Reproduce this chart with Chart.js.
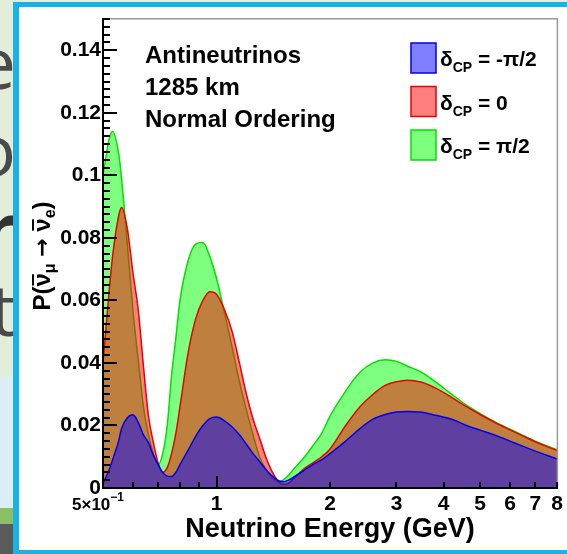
<!DOCTYPE html>
<html>
<head>
<meta charset="utf-8">
<script src="https://cdn.jsdelivr.net/npm/chart.js@4.4.0/dist/chart.umd.min.js"></script>
<style>
  html, body { margin: 0; padding: 0; }
  body { width: 567px; height: 554px; overflow: hidden; position: relative; background: #e3eeda; }
  #sky { position: absolute; left: 0; top: 377px; width: 567px; height: 177px; background: #dcedf8; }
  #grass { position: absolute; left: 0; top: 508px; width: 567px; height: 16px; background: #8cbf62; }
  #road { position: absolute; left: 0; top: 524px; width: 567px; height: 30px; background: #5a5a5a; }
  .big { position: absolute; right: 551px; font-family: "Open Sans", sans-serif; font-size: 72px; line-height: 72px; color: #4a4a4a; }
  #panel { position: absolute; left: 13px; top: 2px; width: 554px; height: 552px; box-sizing: border-box;
           border-left: 6px solid #16b4e6; border-top: 5px solid #16b4e6; border-bottom: 4px solid #16b4e6; background: #fff; }
  #wrap { position: absolute; left: 0; top: 0; width: 567px; height: 554px; z-index: 2; }
  #ticks { position: absolute; left: 0; top: 0; width: 567px; height: 554px; z-index: 3; pointer-events: none; }
  #ticks div { position: absolute; background: #000; }
</style>
</head>
<body>
<div id="sky"></div>
<div id="grass"></div>
<div id="road"></div>
<div class="big" style="top:25px">e</div>
<div class="big" style="top:112px">o</div>
<div class="big" style="top:191px;font-weight:bold;color:#333">r</div>
<div class="big" style="top:272px">t</div>
<div id="panel"></div>
<div id="wrap"><canvas id="myChart" width="567" height="554"></canvas></div>
<div id="ticks"></div>
<script>
// neutrino energy (GeV)
const energy = [0.50, 0.52, 0.53, 0.55, 0.56, 0.58, 0.60, 0.62, 0.64, 0.66, 0.68, 0.70, 0.72, 0.74, 0.76, 0.78,
  0.80, 0.84, 0.88, 0.92, 0.96, 1.00, 1.05, 1.10, 1.15, 1.20, 1.25, 1.30, 1.35, 1.40, 1.45, 1.50, 1.55, 1.60,
  1.70, 1.80, 1.90, 2.0, 2.2, 2.4, 2.6, 2.8, 3.0, 3.2, 3.5, 3.8, 4.2, 4.6, 5.0, 5.5, 6.0, 6.5, 7.0, 7.5, 8.0];

// P(anti-numu -> anti-nue) for each delta_CP
const probMinusHalfPi = [0.0015, 0.006, 0.009, 0.015, 0.019, 0.0225, 0.0234, 0.021, 0.017, 0.0145, 0.0105, 0.0075,
  0.005, 0.0038, 0.0037, 0.005, 0.0075, 0.012, 0.0165, 0.020, 0.0222, 0.0227, 0.0215, 0.0195, 0.017, 0.014,
  0.011, 0.0085, 0.006, 0.004, 0.0025, 0.002, 0.0025, 0.0035, 0.0055, 0.0075, 0.009, 0.011, 0.015, 0.019,
  0.022, 0.0235, 0.0243, 0.0245, 0.0242, 0.0233, 0.022, 0.020, 0.0185, 0.0168, 0.015, 0.0133, 0.0118, 0.0105, 0.0093];
const probZero = [0.040, 0.064, 0.074, 0.087, 0.0897, 0.083, 0.069, 0.057, 0.039, 0.023, 0.0145, 0.008,
  0.005, 0.0065, 0.011, 0.0175, 0.026, 0.043, 0.054, 0.060, 0.0628, 0.062, 0.057, 0.050, 0.040, 0.030,
  0.022, 0.016, 0.010, 0.0055, 0.0025, 0.0012, 0.0015, 0.003, 0.006, 0.008, 0.010, 0.0125, 0.020, 0.026,
  0.030, 0.0328, 0.034, 0.0345, 0.0338, 0.032, 0.029, 0.026, 0.0235, 0.0208, 0.0186, 0.0166, 0.0148, 0.0133, 0.012];
const probPlusHalfPi = [0.100, 0.112, 0.114, 0.107, 0.099, 0.078, 0.057, 0.041, 0.026, 0.017, 0.011, 0.0075,
  0.011, 0.020, 0.036, 0.048, 0.060, 0.0725, 0.078, 0.0785, 0.074, 0.067, 0.056, 0.045, 0.034, 0.025,
  0.017, 0.010, 0.006, 0.0035, 0.002, 0.0025, 0.004, 0.006, 0.0095, 0.0135, 0.0175, 0.023, 0.031, 0.037,
  0.040, 0.041, 0.0405, 0.039, 0.037, 0.034, 0.030, 0.0265, 0.0238, 0.021, 0.0188, 0.0168, 0.015, 0.0135, 0.0122];

const yTicks = [0, 0.02, 0.04, 0.06, 0.08, 0.1, 0.12, 0.14];
const yTickLabels = ["0", "0.02", "0.04", "0.06", "0.08", "0.1", "0.12", "0.14"];
const xTicks = [0.5, 1, 2, 3, 4, 5, 6, 7, 8];
const xTickLabels = ["", "1", "2", "3", "4", "5", "6", "7", "8"];
const xMinorTicks = [0.6, 0.7, 0.8, 0.9, 2, 3, 4, 5, 6, 7, 8];
const infoLines = ["Antineutrinos", "1285 km", "Normal Ordering"];
const legendValues = ["-\u03c0/2", "0", "\u03c0/2"];

const FONT = "Liberation Sans, Arial, Helvetica, sans-serif";

function pts(vals) {
  return energy.map((e, i) => ({ x: e, y: vals[i] }));
}

// grey frame on top and right, like the ROOT pad
const rootFrame = {
  id: "rootFrame",
  afterDraw(chart) {
    const ctx = chart.ctx;
    const a = chart.chartArea;
    ctx.save();
    ctx.fillStyle = "#9a9a9a";
    ctx.fillRect(a.left, a.top - 1, a.right - a.left, 1.5);
    ctx.fillRect(a.right - 0.5, a.top - 1, 1.5, a.bottom - a.top);
    ctx.restore();
  }
};

// texts: 5x10^-1 label, info lines, legend, y title
const rootText = {
  id: "rootText",
  afterDraw(chart) {
    const ctx = chart.ctx;
    ctx.save();
    ctx.fillStyle = "#000";
    ctx.textBaseline = "alphabetic";
    ctx.textAlign = "left";
    ctx.font = "bold 17px " + FONT;
    ctx.fillText("5\u00d710", 72, 510);
    const w = ctx.measureText("5\u00d710").width;
    ctx.font = "bold 12px " + FONT;
    ctx.fillText("\u22121", 72 + w, 501);

    ctx.font = "bold 24px " + FONT;
    infoLines.forEach((t, i) => ctx.fillText(t, 145, 63 + i * 32));

    const cols = [["rgba(0,0,255,0.5)", "rgb(0,0,235)"], ["rgba(255,0,0,0.5)", "rgb(235,0,0)"], ["rgba(0,255,0,0.5)", "rgb(0,225,0)"]];
    legendValues.forEach((t, i) => {
      const cy = 58 + i * 43.5;
      ctx.fillStyle = cols[i][0];
      ctx.strokeStyle = cols[i][1];
      ctx.lineWidth = 1.5;
      ctx.beginPath();
      ctx.rect(411, cy - 15, 25, 30);
      ctx.fill();
      ctx.stroke();
      ctx.fillStyle = "#000";
      let tx = 440;
      ctx.font = "bold 21px " + FONT;
      ctx.fillText("\u03b4", tx, cy + 8);
      tx += ctx.measureText("\u03b4").width;
      ctx.font = "bold 14px " + FONT;
      ctx.fillText("CP", tx, cy + 14);
      tx += ctx.measureText("CP").width;
      ctx.font = "bold 21px " + FONT;
      ctx.fillText(" = " + t, tx, cy + 8);
    });

    ctx.translate(50, 256);
    ctx.rotate(-Math.PI / 2);
    const big = "bold 24px " + FONT, small = "bold 16px " + FONT, arrow = "bold 22px DejaVu Sans";
    const parts = [["P(", big, 0, false], ["\u03bd", big, 0, true], ["\u03bc", small, 5, false],
      [" ", big, 0, false], ["\u2192", arrow, -1, false], [" ", big, 0, false],
      ["\u03bd", big, 0, true], ["e", small, 5, false], [")", big, 0, false]];
    let total = 0;
    parts.forEach(p => { ctx.font = p[1]; total += ctx.measureText(p[0]).width; });
    let cx = -total / 2;
    parts.forEach(p => {
      ctx.font = p[1];
      const pw = ctx.measureText(p[0]).width;
      ctx.fillText(p[0], cx, p[2]);
      if (p[3]) ctx.fillRect(cx + 1, -18, pw - 2, 2);
      cx += pw;
    });
    ctx.restore();
  }
};

Chart.defaults.font.family = FONT;
Chart.defaults.font.weight = "bold";
Chart.defaults.color = "#000";

const chart = new Chart(document.getElementById("myChart"), {
  type: "line",
  data: {
    datasets: [
      { label: "\u03b4CP = -\u03c0/2", data: pts(probMinusHalfPi), borderColor: "rgb(0,0,235)", backgroundColor: "rgba(0,0,255,0.5)", fill: "origin" },
      { label: "\u03b4CP = 0", data: pts(probZero), borderColor: "rgb(235,0,0)", backgroundColor: "rgba(255,0,0,0.5)", fill: "origin" },
      { label: "\u03b4CP = \u03c0/2", data: pts(probPlusHalfPi), borderColor: "rgb(0,225,0)", backgroundColor: "rgba(0,255,0,0.5)", fill: "origin" }
    ]
  },
  options: {
    responsive: false,
    animation: false,
    layout: { padding: { top: 19, right: 9, left: 0, bottom: 0 } },
    elements: {
      point: { radius: 0 },
      line: { borderWidth: 1.5, cubicInterpolationMode: "monotone" }
    },
    plugins: { legend: { display: false }, tooltip: { enabled: false } },
    scales: {
      x: {
        type: "logarithmic",
        min: 0.5,
        max: 8,
        grid: { display: false, drawTicks: false },
        border: { display: true, color: "#000", width: 2 },
        afterBuildTicks: s => { s.ticks = xTicks.map(v => ({ value: v })); },
        afterFit: s => { s.height = 66; },
        ticks: {
          autoSkip: false,
          maxRotation: 0,
          padding: 4,
          font: { size: 21, weight: "bold" },
          callback: (v, i) => xTickLabels[i]
        },
        title: {
          display: true,
          text: "Neutrino Energy (GeV)",
          font: { size: 27, weight: "bold" },
          padding: { top: 0, bottom: 8 }
        }
      },
      y: {
        min: 0,
        max: 0.15,
        grid: { display: false, drawTicks: false },
        border: { display: true, color: "#000", width: 2 },
        afterBuildTicks: s => { s.ticks = yTicks.map(v => ({ value: v })); },
        afterFit: s => { s.width = 103; },
        ticks: {
          padding: 2,
          font: { size: 21, weight: "bold" },
          callback: (v, i) => yTickLabels[i]
        }
      }
    }
  },
  plugins: [rootFrame, rootText]
});

// ROOT style tick marks inside the frame, placed from the chart's own scales
const layer = document.getElementById("ticks");
function mark(x, y, w, h) {
  const d = document.createElement("div");
  d.style.left = x + "px";
  d.style.top = y + "px";
  d.style.width = w + "px";
  d.style.height = h + "px";
  layer.appendChild(d);
}
const area = chart.chartArea;
const ys = chart.scales.y, xs = chart.scales.x;
mark(area.left - 1, area.top, 2, area.bottom - area.top + 1);
mark(area.left - 1, area.bottom - 1, area.right - area.left + 1, 2);
for (let k = 0; k <= 60; k++) {
  const py = Math.round(ys.getPixelForValue(k * 0.0025));
  mark(area.left, py - 1, (k % 8 === 0) ? 14 : 7, 2);
}
xMinorTicks.forEach(v => {
  const px = Math.round(xs.getPixelForValue(v));
  mark(px - 1, area.bottom - 6, 2, 6);
});
const p1 = Math.round(xs.getPixelForValue(1));
mark(p1 - 1, area.bottom - 12, 2, 12);
</script>
</body>
</html>
